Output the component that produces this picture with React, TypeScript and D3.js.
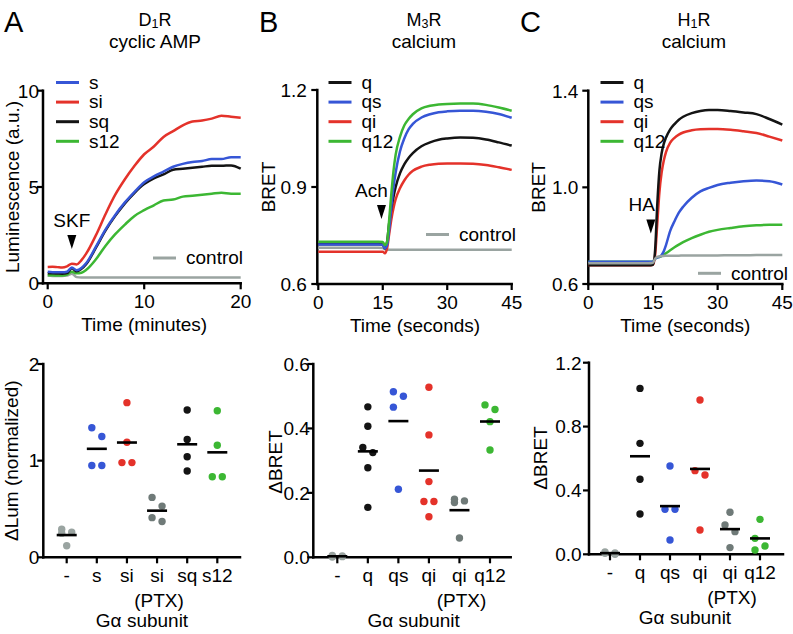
import React from "react";
import * as d3 from "d3";

const FONT = "'Liberation Sans', Arial, Helvetica, sans-serif";
const COL = {
  blue: "#3656d6",
  red: "#e4322a",
  green: "#3cb733",
  black: "#141414",
  gray: "#9aa4a1",
  dgray: "#6f7a78",
};

// ---------- Panel A (top): D1R cyclic AMP ----------
const timeA = [0, 0.5, 1, 1.5, 2, 2.5, 3, 3.5, 4, 5, 6, 7, 8, 9, 10, 11, 12, 13, 14, 15, 16, 17, 18, 19, 20];
const aS = [0.6, 0.58, 0.58, 0.57, 0.6, 0.82, 0.68, 0.8, 1.05, 1.9, 2.8, 3.55, 4.2, 4.75, 5.25, 5.55, 5.8, 6.05, 6.2, 6.3, 6.35, 6.45, 6.45, 6.55, 6.55];
const aSi = [0.85, 0.86, 0.84, 0.82, 0.88, 1.02, 0.98, 1.2, 1.55, 2.5, 3.6, 4.6, 5.4, 6.1, 6.7, 7.1, 7.6, 7.9, 8.2, 8.4, 8.45, 8.55, 8.7, 8.65, 8.6];
const aSq = [0.52, 0.52, 0.51, 0.5, 0.53, 0.78, 0.62, 0.75, 1.0, 1.85, 2.75, 3.5, 4.15, 4.7, 5.15, 5.45, 5.65, 5.9, 5.95, 6.0, 6.05, 6.1, 6.1, 6.12, 5.95];
const aS12 = [0.42, 0.42, 0.4, 0.4, 0.45, 0.6, 0.52, 0.55, 0.7, 1.25, 1.95, 2.55, 3.05, 3.5, 3.8, 4.05, 4.3, 4.35, 4.5, 4.55, 4.6, 4.65, 4.7, 4.65, 4.65];
const aCtrl = [0.4, 0.38, 0.38, 0.38, 0.4, 0.5, 0.32, 0.3, 0.3, 0.3, 0.3, 0.3, 0.3, 0.3, 0.3, 0.3, 0.3, 0.3, 0.3, 0.3, 0.3, 0.3, 0.3, 0.3, 0.3];
const aYTicks = [0, 5, 10];
const aXTicks = [0, 10, 20];

// ---------- Panel B (top): M3R calcium ----------
const timeB = [0, 5, 10, 14, 15, 15.5, 16, 16.5, 17, 17.5, 18, 19, 20, 21, 22, 24, 26, 28, 30, 33, 36, 39, 42, 45];
const bQ = [0.723, 0.723, 0.723, 0.723, 0.722, 0.71, 0.73, 0.79, 0.835, 0.87, 0.9, 0.942, 0.97, 0.99, 1.005, 1.026, 1.038, 1.046, 1.05, 1.053, 1.052, 1.047, 1.038, 1.028];
const bQs = [0.722, 0.722, 0.722, 0.722, 0.721, 0.71, 0.72, 0.77, 0.84, 0.9, 0.945, 1.01, 1.05, 1.078, 1.095, 1.115, 1.125, 1.131, 1.134, 1.136, 1.136, 1.133, 1.126, 1.114];
const bQi = [0.7, 0.7, 0.7, 0.7, 0.7, 0.695, 0.71, 0.755, 0.8, 0.835, 0.862, 0.896, 0.92, 0.938, 0.95, 0.963, 0.969, 0.972, 0.973, 0.973, 0.972, 0.968, 0.961, 0.953];
const bQ12 = [0.731, 0.731, 0.731, 0.731, 0.73, 0.72, 0.73, 0.8, 0.88, 0.95, 1.0, 1.055, 1.09, 1.11, 1.125, 1.143, 1.151, 1.155, 1.157, 1.158, 1.158, 1.154, 1.146, 1.136];
const bCtrl = [0.712, 0.712, 0.712, 0.712, 0.711, 0.707, 0.706, 0.706, 0.706, 0.706, 0.706, 0.706, 0.706, 0.706, 0.706, 0.706, 0.706, 0.706, 0.706, 0.706, 0.706, 0.706, 0.706, 0.706];
const bYTicks = [0.6, 0.9, 1.2];
const bXTicks = [0, 15, 30, 45];

// ---------- Panel C (top): H1R calcium ----------
const timeC = [0, 5, 10, 14, 15, 15.5, 16, 16.5, 17, 17.5, 18, 19, 20, 21, 22, 24, 26, 28, 30, 33, 36, 39, 42, 45];
const cQ = [0.678, 0.678, 0.678, 0.678, 0.68, 0.74, 0.93, 1.07, 1.14, 1.18, 1.205, 1.24, 1.262, 1.28, 1.292, 1.307, 1.316, 1.32, 1.32, 1.316, 1.31, 1.303, 1.283, 1.26];
const cQs = [0.692, 0.692, 0.692, 0.692, 0.693, 0.705, 0.71, 0.712, 0.72, 0.735, 0.76, 0.82, 0.86, 0.895, 0.92, 0.957, 0.983, 0.998, 1.01, 1.019, 1.025, 1.028, 1.025, 1.012];
const cQi = [0.678, 0.678, 0.678, 0.678, 0.68, 0.72, 0.85, 0.98, 1.06, 1.11, 1.145, 1.185, 1.205, 1.218, 1.227, 1.236, 1.24, 1.241, 1.241, 1.238, 1.232, 1.225, 1.21, 1.194];
const cQ12 = [0.692, 0.692, 0.692, 0.692, 0.693, 0.705, 0.71, 0.712, 0.715, 0.72, 0.727, 0.74, 0.752, 0.763, 0.773, 0.79, 0.804, 0.816, 0.824, 0.832, 0.839, 0.843, 0.845, 0.845];
const cCtrl = [0.686, 0.686, 0.686, 0.686, 0.688, 0.705, 0.712, 0.714, 0.716, 0.716, 0.717, 0.717, 0.717, 0.717, 0.718, 0.718, 0.718, 0.718, 0.718, 0.719, 0.719, 0.72, 0.72, 0.72];
const cYTicks = [0.6, 1.0, 1.4];
const cXTicks = [0, 15, 30, 45];

// ---------- Bottom scatter data ----------
const catsA = ["-", "s", "si", "si", "sq", "s12"];
const dotsA = [
  [0.29, 0.26, 0.25, 0.12],
  [1.34, 1.25, 0.95, 0.95],
  [1.6, 1.19, 0.98, 0.98],
  [0.62, 0.53, 0.41, 0.37],
  [1.524, 1.22, 1.04, 0.893],
  [1.517, 1.159, 0.834, 0.834],
];
const botAYTicks = [0, 1, 2];

const catsBC = ["-", "q", "qs", "qi", "qi", "q12"];
const dotsB = [
  [0.006, 0.004, 0.003, 0.002, 0.001],
  [0.467, 0.407, 0.341, 0.325, 0.278, 0.155],
  [0.514, 0.5, 0.466, 0.211],
  [0.528, 0.38, 0.235, 0.173, 0.173, 0.126],
  [0.18, 0.175, 0.17, 0.06],
  [0.473, 0.459, 0.421, 0.333],
];
const botBYTicks = [0, 0.2, 0.4, 0.6];

const dotsC = [
  [0.015, 0.008, 0.006, 0.0],
  [1.039, 0.695, 0.47, 0.252],
  [0.553, 0.282, 0.282, 0.09],
  [0.966, 0.524, 0.497, 0.152],
  [0.263, 0.184, 0.142, 0.042],
  [0.219, 0.1, 0.052, 0.027],
];
const botCYTicks = [0, 0.4, 0.8, 1.2];

type Series = { name: string; values: number[]; color: string };

function Axes(props: {
  ax: number;
  yScale: d3.ScaleLinear<number, number>;
  yTicks: number[];
  yFmt: (v: number) => string;
  labelGap: number;
  axisY: number;
  xEnd: number;
  xTickPos: number[];
  xTickLabels: string[];
}) {
  const { ax, yScale, yTicks, yFmt, labelGap, axisY, xEnd, xTickPos, xTickLabels } = props;
  const yTop = yScale(d3.max(yTicks) as number);
  return (
    <g>
      <line x1={ax} x2={ax} y1={yTop} y2={axisY} stroke="#000" strokeWidth={2.5} strokeLinecap="square" />
      <line x1={ax} x2={xEnd} y1={axisY} y2={axisY} stroke="#000" strokeWidth={2.5} strokeLinecap="square" />
      {yTicks.map((t) => (
        <g key={"y" + t}>
          <line x1={ax - 6} x2={ax} y1={yScale(t)} y2={yScale(t)} stroke="#000" strokeWidth={2.2} />
          <text x={ax - labelGap} y={yScale(t)} dy="0.36em" textAnchor="end" fontSize={19} fontFamily={FONT}>
            {yFmt(t)}
          </text>
        </g>
      ))}
      {xTickPos.map((p, i) => (
        <g key={"x" + i}>
          <line x1={p} x2={p} y1={axisY} y2={axisY + 6} stroke="#000" strokeWidth={2.2} />
          <text x={p} y={axisY + 25} textAnchor="middle" fontSize={19} fontFamily={FONT}>
            {xTickLabels[i]}
          </text>
        </g>
      ))}
    </g>
  );
}

function TopPanel(props: {
  ax: number;
  xRange: [number, number];
  yRange: [number, number];
  xDomain: [number, number];
  yDomain: [number, number];
  xTicks: number[];
  yTicks: number[];
  yFmt: (v: number) => string;
  labelGap: number;
  time: number[];
  series: Series[];
  legend: Series[];
  legendX: number;
  legendY: number;
  ctrlX: number;
  ctrlY: number;
  stim: string;
  stimT: number;
  stimTextY: number;
  stimTextDx: number;
  arrowTop: number;
  xLabel: string;
  yLabel: string;
  yLabelX: number;
}) {
  const p = props;
  const x = d3.scaleLinear().domain(p.xDomain).range(p.xRange);
  const y = d3.scaleLinear().domain(p.yDomain).range(p.yRange);
  const line = d3
    .line<number>()
    .x((_, i) => x(p.time[i]))
    .y((v) => y(v))
    .curve(d3.curveMonotoneX);
  const axisY = p.yRange[0];
  const ax0 = x(p.stimT);
  return (
    <g>
      <Axes
        ax={p.ax}
        yScale={y}
        yTicks={p.yTicks}
        yFmt={p.yFmt}
        labelGap={p.labelGap}
        axisY={axisY}
        xEnd={p.xRange[1]}
        xTickPos={p.xTicks.map((t) => x(t))}
        xTickLabels={p.xTicks.map((t) => String(t))}
      />
      {p.series.map((s) => (
        <path key={s.name} d={line(s.values) || ""} fill="none" stroke={s.color} strokeWidth={2.5} strokeLinejoin="round" />
      ))}
      {p.legend.map((s, i) => (
        <g key={"lg" + s.name}>
          <line x1={p.legendX} x2={p.legendX + 23} y1={p.legendY + i * 19.6} y2={p.legendY + i * 19.6} stroke={s.color} strokeWidth={3} />
          <text x={p.legendX + 33} y={p.legendY + i * 19.6} dy="0.33em" fontSize={19} fontFamily={FONT}>
            {s.name}
          </text>
        </g>
      ))}
      <line x1={p.ctrlX} x2={p.ctrlX + 23} y1={p.ctrlY} y2={p.ctrlY} stroke={COL.gray} strokeWidth={3} />
      <text x={p.ctrlX + 33} y={p.ctrlY} dy="0.33em" fontSize={19} fontFamily={FONT}>
        control
      </text>
      <text x={ax0 + p.stimTextDx} y={p.stimTextY} textAnchor="middle" fontSize={19} fontFamily={FONT}>
        {p.stim}
      </text>
      <path
        d={`M${ax0 - 4.5},${p.arrowTop} L${ax0 + 4.5},${p.arrowTop} L${ax0},${p.arrowTop + 14} Z`}
        fill="#000"
      />
      <text
        x={(p.xRange[0] + p.xRange[1]) / 2}
        y={axisY + 48}
        textAnchor="middle"
        fontSize={19}
        fontFamily={FONT}
      >
        {p.xLabel}
      </text>
      <text
        transform={`translate(${p.yLabelX},${(p.yRange[0] + p.yRange[1]) / 2}) rotate(-90)`}
        textAnchor="middle"
        fontSize={19}
        fontFamily={FONT}
      >
        {p.yLabel}
      </text>
    </g>
  );
}

function swarm(values: number[], yScale: d3.ScaleLinear<number, number>, d: number): number[] {
  // cluster consecutive (descending) values closer than 12 px; alternate left/right within cluster
  const idx = values.map((_, i) => i).sort((a, b) => values[b] - values[a]);
  const off = new Array(values.length).fill(0);
  let cluster: number[] = [];
  const flush = () => {
    if (cluster.length >= 2) cluster.forEach((k, j) => (off[k] = j % 2 === 0 ? -d : d));
    cluster = [];
  };
  idx.forEach((k, j) => {
    if (j > 0 && Math.abs(yScale(values[k]) - yScale(values[idx[j - 1]])) >= 12) flush();
    cluster.push(k);
  });
  flush();
  return off;
}

function BottomPanel(props: {
  ax: number;
  axisY: number;
  yTop: number;
  xEnd: number;
  catRange: [number, number];
  yDomain: [number, number];
  yTicks: number[];
  yFmt: (v: number) => string;
  labelGap: number;
  cats: string[];
  ptxIndex: number;
  dots: number[][];
  colors: string[];
  yLabel: string;
  yLabelX: number;
  yLabelY: number;
}) {
  const p = props;
  const y = d3.scaleLinear().domain(p.yDomain).range([p.axisY, p.yTop]);
  const x = d3
    .scalePoint<number>()
    .domain(p.cats.map((_, i) => i))
    .range(p.catRange);
  const mid = (p.catRange[0] + p.catRange[1]) / 2;
  return (
    <g>
      <Axes
        ax={p.ax}
        yScale={y}
        yTicks={p.yTicks}
        yFmt={p.yFmt}
        labelGap={p.labelGap}
        axisY={p.axisY}
        xEnd={p.xEnd}
        xTickPos={p.cats.map((_, i) => x(i) as number)}
        xTickLabels={p.cats}
      />
      {p.dots.map((vals, i) => {
        const cx = x(i) as number;
        const offs = swarm(vals, y, 5);
        const m = d3.mean(vals) as number;
        return (
          <g key={"c" + i}>
            {vals.map((v, j) => (
              <circle key={j} cx={cx + offs[j]} cy={y(v)} r={3.7} fill={p.colors[i]} />
            ))}
            <line x1={cx - 10} x2={cx + 10} y1={y(m)} y2={y(m)} stroke="#000" strokeWidth={2.6} />
          </g>
        );
      })}
      <text x={(x(p.ptxIndex) as number) + 2} y={p.axisY + 50} textAnchor="middle" fontSize={19} fontFamily={FONT}>
        (PTX)
      </text>
      <text x={mid} y={p.axisY + 70} textAnchor="middle" fontSize={19} fontFamily={FONT}>
        Gα subunit
      </text>
      <text
        transform={`translate(${p.yLabelX},${p.yLabelY}) rotate(-90)`}
        textAnchor="middle"
        fontSize={19}
        fontFamily={FONT}
      >
        {p.yLabel}
      </text>
    </g>
  );
}

function Title(props: { x: number; main: string; sub: string; tail: string; second: string; letter: string; letterX: number }) {
  return (
    <g fontFamily={FONT}>
      <text x={props.letterX} y={32} fontSize={29}>
        {props.letter}
      </text>
      <text x={props.x} y={25.5} textAnchor="middle" fontSize={18}>
        {props.main}
        <tspan fontSize={12.5} dy={2}>
          {props.sub}
        </tspan>
        <tspan dy={-2}>{props.tail}</tspan>
      </text>
      <text x={props.x} y={47.5} textAnchor="middle" fontSize={19}>
        {props.second}
      </text>
    </g>
  );
}

export default function App() {
  const f0 = (v: number) => String(v);
  const f1 = d3.format(".1f");
  return (
    <svg width={793} height={634} style={{ position: "absolute", left: 0, top: 0, background: "#fff" }}>
      <rect width={793} height={634} fill="#fff" />
      <Title x={155} main="D" sub="1" tail="R" second="cyclic AMP" letter="A" letterX={4} />
      <Title x={424} main="M" sub="3" tail="R" second="calcium" letter="B" letterX={259} />
      <Title x={694} main="H" sub="1" tail="R" second="calcium" letter="C" letterX={520} />

      <TopPanel
        ax={43}
        xRange={[47.7, 240.7]}
        yRange={[283.3, 90.7]}
        xDomain={[0, 20]}
        yDomain={[0, 10]}
        xTicks={aXTicks}
        yTicks={aYTicks}
        yFmt={f0}
        labelGap={4}
        time={timeA}
        series={[
          { name: "control", values: aCtrl, color: COL.gray },
          { name: "s12", values: aS12, color: COL.green },
          { name: "sq", values: aSq, color: COL.black },
          { name: "s", values: aS, color: COL.blue },
          { name: "si", values: aSi, color: COL.red },
        ]}
        legend={[
          { name: "s", values: aS, color: COL.blue },
          { name: "si", values: aSi, color: COL.red },
          { name: "sq", values: aSq, color: COL.black },
          { name: "s12", values: aS12, color: COL.green },
        ]}
        legendX={56}
        legendY={82.5}
        ctrlX={153}
        ctrlY={258}
        stim="SKF"
        stimT={2.5}
        stimTextY={227}
        stimTextDx={0}
        arrowTop={235}
        xLabel="Time (minutes)"
        yLabel="Luminescence (a.u.)"
        yLabelX={19}
      />

      <TopPanel
        ax={317.3}
        xRange={[318.3, 511.7]}
        yRange={[284, 90]}
        xDomain={[0, 45]}
        yDomain={[0.6, 1.2]}
        xTicks={bXTicks}
        yTicks={bYTicks}
        yFmt={f1}
        labelGap={10.5}
        time={timeB}
        series={[
          { name: "control", values: bCtrl, color: COL.gray },
          { name: "qi", values: bQi, color: COL.red },
          { name: "q", values: bQ, color: COL.black },
          { name: "qs", values: bQs, color: COL.blue },
          { name: "q12", values: bQ12, color: COL.green },
        ]}
        legend={[
          { name: "q", values: bQ, color: COL.black },
          { name: "qs", values: bQs, color: COL.blue },
          { name: "qi", values: bQi, color: COL.red },
          { name: "q12", values: bQ12, color: COL.green },
        ]}
        legendX={328.5}
        legendY={82.5}
        ctrlX={426}
        ctrlY={234.5}
        stim="Ach"
        stimT={14.7}
        stimTextY={197}
        stimTextDx={-10}
        arrowTop={205}
        xLabel="Time (seconds)"
        yLabel="BRET"
        yLabelX={275}
      />

      <TopPanel
        ax={588.3}
        xRange={[588.3, 782.3]}
        yRange={[284, 90.7]}
        xDomain={[0, 45]}
        yDomain={[0.6, 1.4]}
        xTicks={cXTicks}
        yTicks={cYTicks}
        yFmt={f1}
        labelGap={10}
        time={timeC}
        series={[
          { name: "q12", values: cQ12, color: COL.green },
          { name: "qs", values: cQs, color: COL.blue },
          { name: "qi", values: cQi, color: COL.red },
          { name: "q", values: cQ, color: COL.black },
          { name: "control", values: cCtrl, color: COL.gray },
        ]}
        legend={[
          { name: "q", values: cQ, color: COL.black },
          { name: "qs", values: cQs, color: COL.blue },
          { name: "qi", values: cQi, color: COL.red },
          { name: "q12", values: cQ12, color: COL.green },
        ]}
        legendX={600.5}
        legendY={82.5}
        ctrlX={698}
        ctrlY={273.3}
        stim="HA"
        stimT={14.5}
        stimTextY={211}
        stimTextDx={-9}
        arrowTop={219.5}
        xLabel="Time (seconds)"
        yLabel="BRET"
        yLabelX={545}
      />

      <BottomPanel
        ax={43.3}
        axisY={557.3}
        yTop={364}
        xEnd={240}
        catRange={[66.7, 217.3]}
        yDomain={[0, 2]}
        yTicks={botAYTicks}
        yFmt={f0}
        labelGap={4}
        cats={catsA}
        ptxIndex={3}
        dots={dotsA}
        colors={[COL.gray, COL.blue, COL.red, COL.dgray, COL.black, COL.green]}
        yLabel="ΔLum (normalized)"
        yLabelX={17.5}
        yLabelY={460.7}
      />

      <BottomPanel
        ax={313.3}
        axisY={557.3}
        yTop={364}
        xEnd={510.7}
        catRange={[337.3, 490]}
        yDomain={[0, 0.6]}
        yTicks={botBYTicks}
        yFmt={f1}
        labelGap={3.5}
        cats={catsBC}
        ptxIndex={4}
        dots={dotsB}
        colors={[COL.gray, COL.black, COL.blue, COL.red, COL.dgray, COL.green]}
        yLabel="ΔBRET"
        yLabelX={281.5}
        yLabelY={462}
      />

      <BottomPanel
        ax={589}
        axisY={554.3}
        yTop={362.7}
        xEnd={783}
        catRange={[610, 760]}
        yDomain={[0, 1.2]}
        yTicks={botCYTicks}
        yFmt={f1}
        labelGap={7.3}
        cats={catsBC}
        ptxIndex={4}
        dots={dotsC}
        colors={[COL.gray, COL.black, COL.blue, COL.red, COL.dgray, COL.green]}
        yLabel="ΔBRET"
        yLabelX={546.5}
        yLabelY={458}
      />
    </svg>
  );
}
